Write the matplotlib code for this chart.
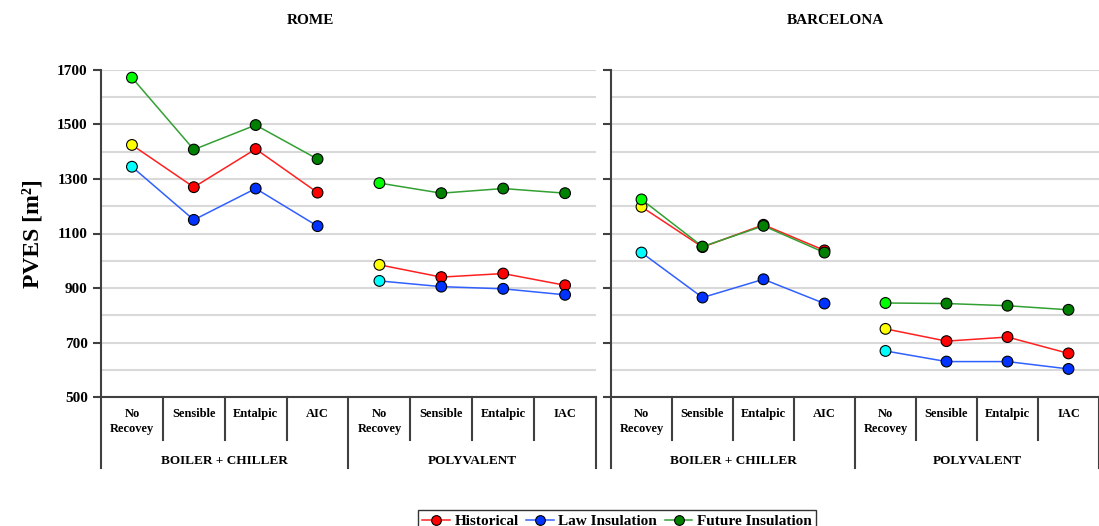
import numpy as np
import matplotlib.pyplot as plt
from matplotlib.lines import Line2D
from matplotlib.transforms import blended_transform_factory

plt.rcParams['font.family'] = ['Liberation Serif', 'DejaVu Serif']
plt.rcParams['font.weight'] = 'bold'

# categories
categories = ['No\nRecovey', 'Sensible', 'Entalpic', 'AIC',
              'No\nRecovey', 'Sensible', 'Entalpic', 'IAC']
groups = ['BOILER + CHILLER', 'POLYVALENT']
cities = ['ROME', 'BARCELONA']

# values [m2]
rome_historical = [1425, 1270, 1410, 1250, 985, 940, 953, 910]
rome_law = [1345, 1150, 1265, 1127, 926, 905, 897, 875]
rome_future = [1672, 1408, 1498, 1373, 1285, 1248, 1265, 1248]

bcn_historical = [1198, 1050, 1132, 1038, 750, 705, 720, 660]
bcn_law = [1030, 865, 932, 843, 669, 630, 630, 603]
bcn_future = [1225, 1052, 1128, 1030, 845, 843, 835, 820]

series_names = ['Historical', 'Law Insulation', 'Future Insulation']
line_colors = ['#FF2020', '#3060FF', '#33A033']
face_colors = ['#FF0000', '#0033FF', '#008000']
first_colors = ['#FFFF00', '#00FFFF', '#00FF00']

W, H = 1099, 526
fig = plt.figure(figsize=(W / 100, H / 100), dpi=100)


def px_axes(left, right, top, bottom):
    return fig.add_axes([left / W, 1 - bottom / H, (right - left) / W, (bottom - top) / H])


panels = [
    (px_axes(101, 596, 70, 397), [rome_historical, rome_law, rome_future], 310),
    (px_axes(611, 1099, 70, 397), [bcn_historical, bcn_law, bcn_future], 835),
]

ax_h = 397 - 70
for k, (ax, data, title_x) in enumerate(panels):
    x = np.arange(len(categories))
    for s, vals in enumerate(data):
        for g in range(2):
            xs = x[g * 4:(g + 1) * 4]
            ys = np.array(vals[g * 4:(g + 1) * 4])
            ax.plot(xs, ys, '-', color=line_colors[s], lw=1.1, zorder=3)
            fcs = [first_colors[s]] + [face_colors[s]] * 3
            ax.scatter(xs, ys, s=60, c=fcs, edgecolors='black', linewidths=0.8, zorder=4)

    ax.set_xlim(-0.5, 7.5)
    ax.set_ylim(500, 1700)
    ax.set_yticks(np.arange(500, 1701, 200))
    ax.set_yticks(np.arange(500, 1701, 100), minor=True)
    ax.grid(True, which='both', axis='y', color='#D9D9D9', lw=1.5, zorder=0)
    ax.set_axisbelow(True)
    ax.set_xticks([])
    for sp in ['top', 'right']:
        ax.spines[sp].set_visible(False)
    ax.spines['left'].set_color('#404040')
    ax.spines['left'].set_linewidth(1.5)
    ax.spines['bottom'].set_color('#404040')
    ax.spines['bottom'].set_linewidth(1.5)
    ax.tick_params(axis='y', which='major', length=6, width=1.5, color='#404040', labelsize=11)
    ax.tick_params(axis='y', which='minor', length=0)
    if k == 0:
        for lab in ax.get_yticklabels():
            lab.set_fontweight('bold')
        ax.set_ylabel('PVES [m²]', fontsize=17, fontweight='bold', labelpad=10)
    else:
        ax.set_yticklabels([])

    # category table below the axis
    tr = blended_transform_factory(ax.transData, ax.transAxes)
    y_small = -(440 - 397) / ax_h
    y_big = -(468 - 397) / ax_h
    for b in [0.5, 1.5, 2.5, 4.5, 5.5, 6.5]:
        ax.plot([b, b], [0, y_small], color='#404040', lw=1.5, transform=tr, clip_on=False)
    for b in [-0.5, 3.5, 7.5]:
        ax.plot([b, b], [0, y_big], color='#404040', lw=1.5, transform=tr, clip_on=False)
    for i, c in enumerate(categories):
        ax.text(i, -(408 - 397) / ax_h, c, transform=tr, ha='center', va='top',
                fontsize=9, fontweight='bold', linespacing=1.3)
    for g, name in enumerate(groups):
        ax.text(1.5 + 4 * g, -(461 - 397) / ax_h, name, transform=tr, ha='center',
                va='center', fontsize=9.5, fontweight='bold')

    fig.text(title_x / W, 1 - 20 / H, cities[k], ha='center', va='center',
             fontsize=11, fontweight='bold')

handles = [Line2D([], [], color=line_colors[s], lw=1.1, marker='o', markersize=7,
                  markerfacecolor=face_colors[s], markeredgecolor='black', markeredgewidth=0.8)
           for s in range(3)]
leg = fig.legend(handles, series_names, loc='upper center', bbox_to_anchor=(617 / W, 1 - 502 / H),
                 ncol=3, frameon=True, fancybox=False, edgecolor='black',
                 handlelength=1.8, handletextpad=0.3, columnspacing=0.5, borderpad=0.3,
                 prop={'weight': 'bold', 'size': 11})
leg.get_frame().set_linewidth(1.0)

fig.savefig('out.png', dpi=100)
